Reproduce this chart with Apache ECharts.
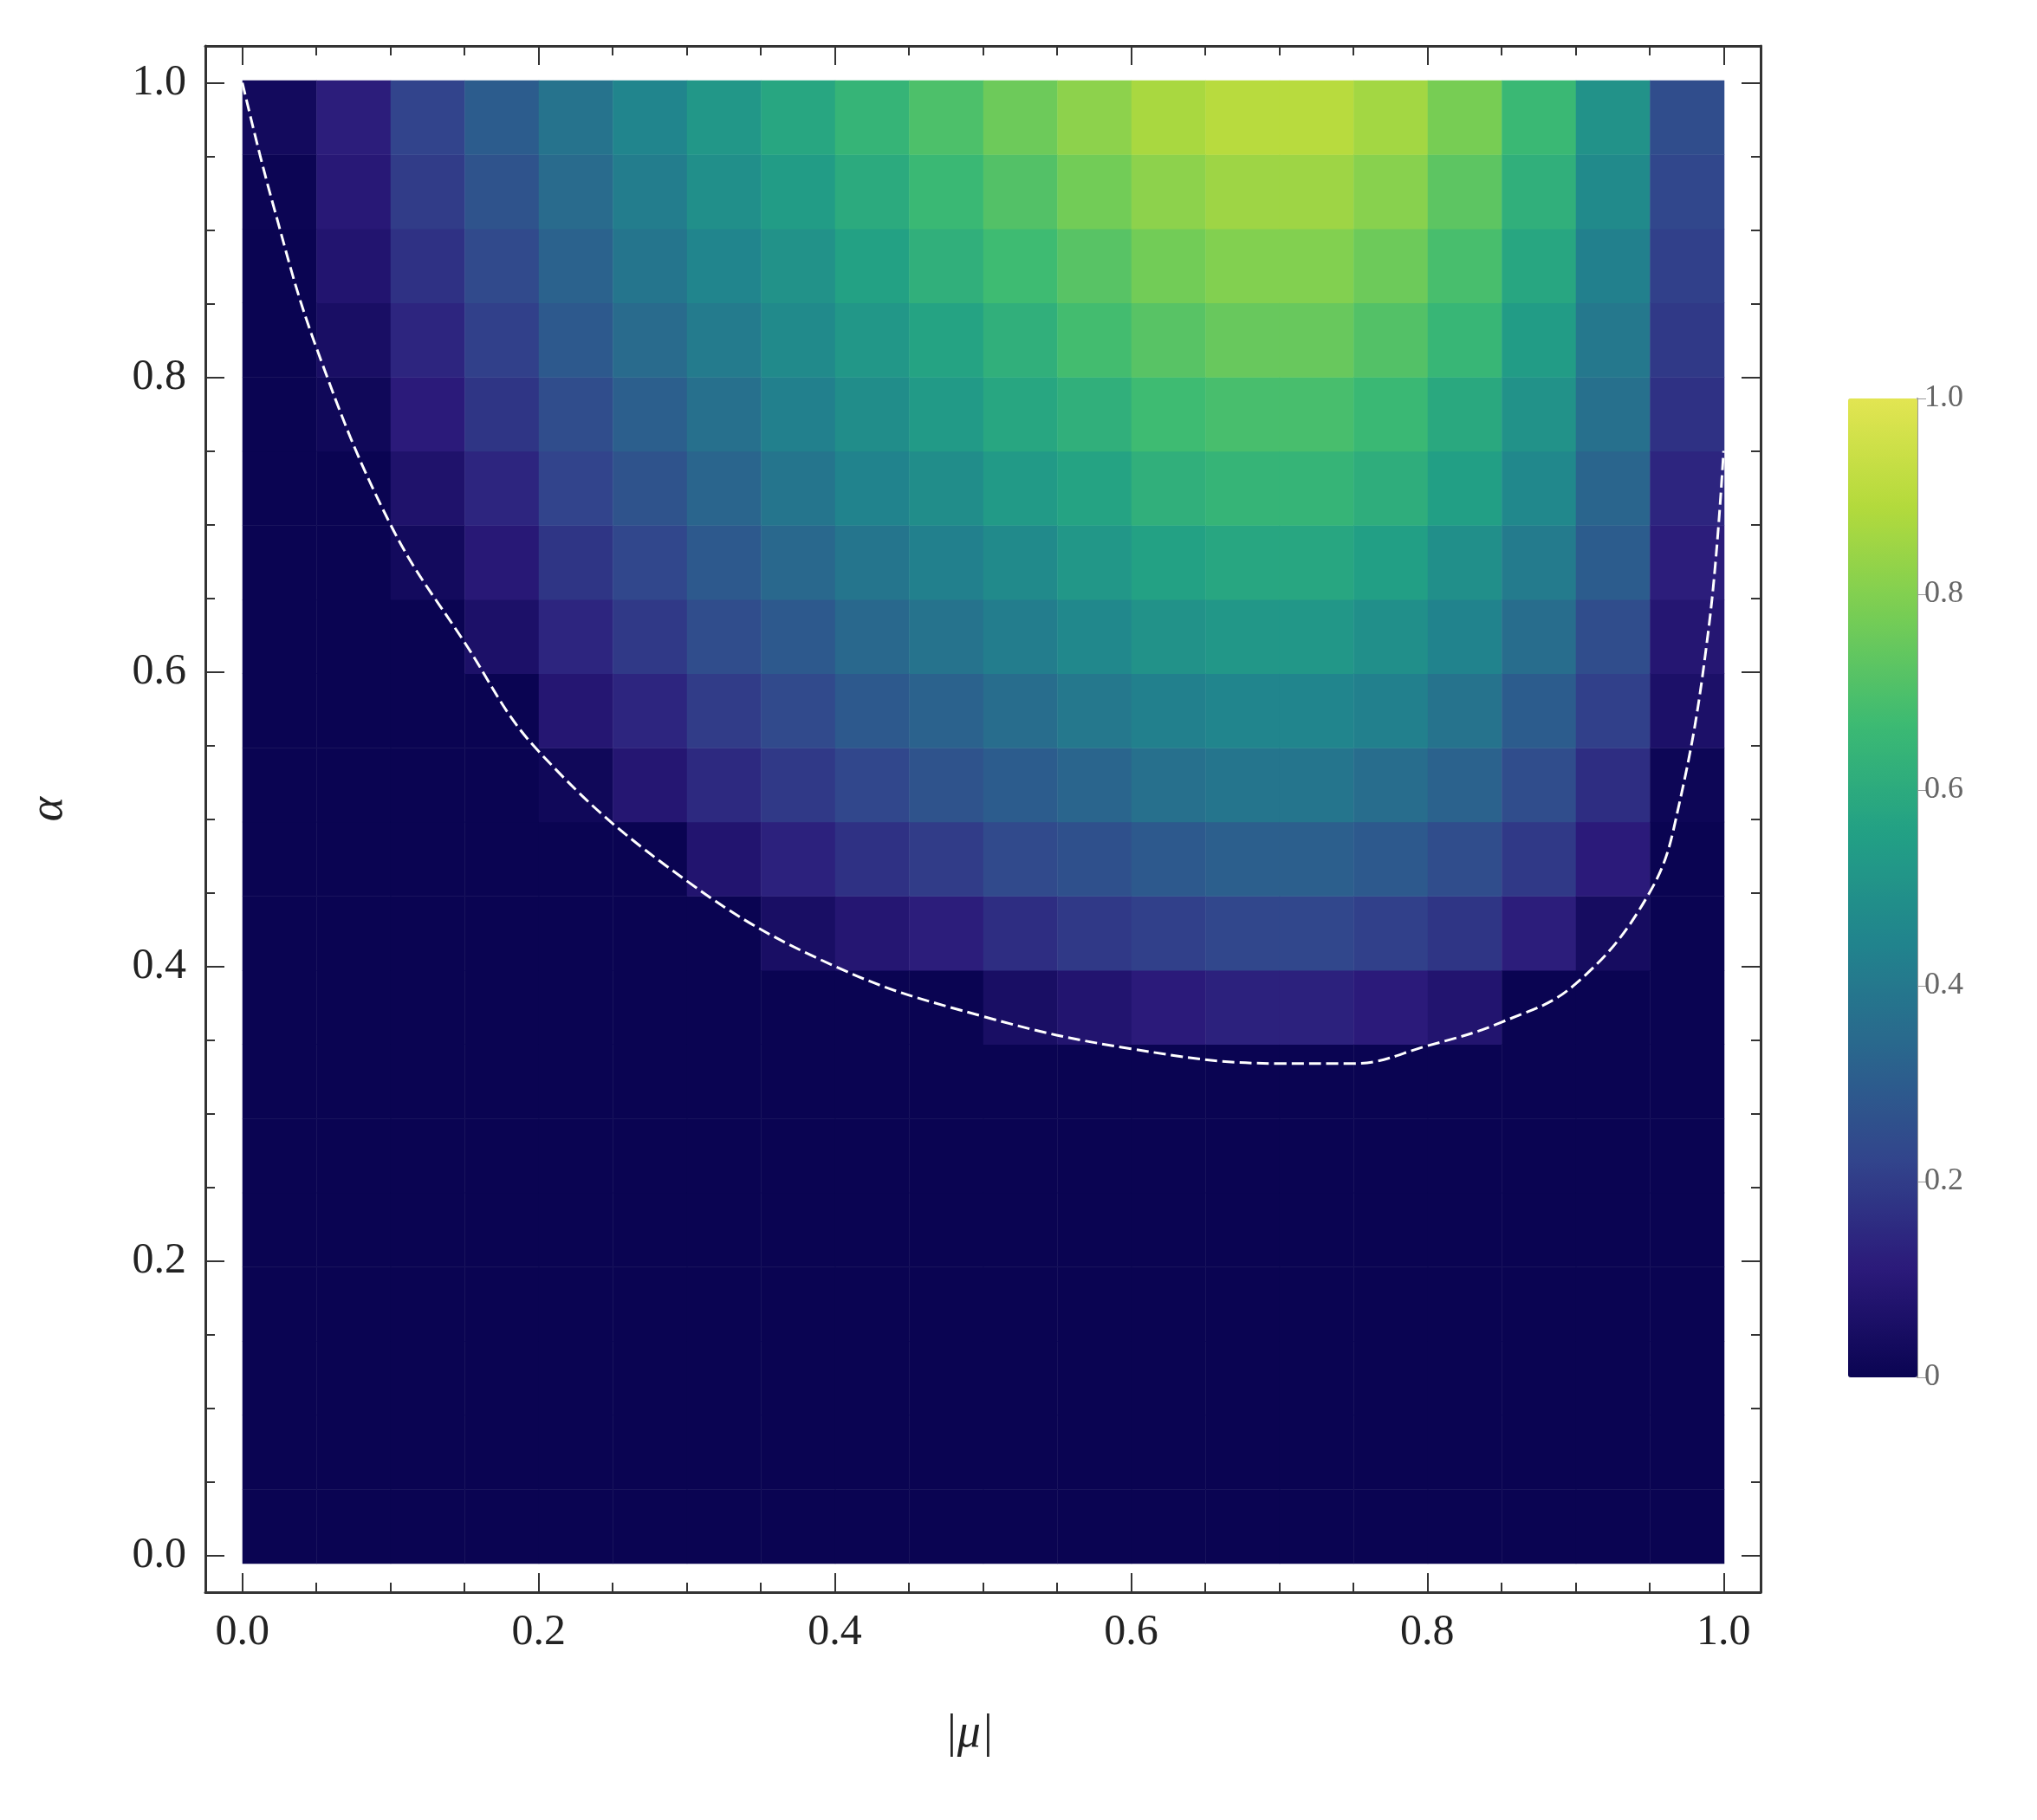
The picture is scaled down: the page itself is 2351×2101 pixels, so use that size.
<!DOCTYPE html>
<html><head><meta charset="utf-8">
<script src="https://cdn.jsdelivr.net/npm/echarts@6/dist/echarts.min.js"></script>
<style>html,body{margin:0;background:#fff}#c{width:2351px;height:2101px}</style>
</head><body><div id="c"></div>
<script>
// heatmap columns: muCols[i] center; each array gives values for alpha rows 0.025..0.975
const muCols = ['0.025','0.075','0.125','0.175','0.225','0.275','0.325','0.375','0.425','0.475','0.525','0.575','0.625','0.675','0.725','0.775','0.825','0.875','0.925','0.975'];
const alphaRows = ['0.025','0.075','0.125','0.175','0.225','0.275','0.325','0.375','0.425','0.475','0.525','0.575','0.625','0.675','0.725','0.775','0.825','0.875','0.925','0.975'];
const col0  = [0,0,0,0,0,0,0,0,0,0,0,0,0,0,0,0,0,0,0.006,0.03];
const col1  = [0,0,0,0,0,0,0,0,0,0,0,0,0,0,0,0.02,0.05,0.08,0.10,0.12];
const col2  = [0,0,0,0,0,0,0,0,0,0,0,0,0,0.03,0.07,0.11,0.14,0.17,0.20,0.22];
const col3  = [0,0,0,0,0,0,0,0,0,0,0,0,0.06,0.10,0.14,0.18,0.21,0.24,0.27,0.30];
const col4  = [0,0,0,0,0,0,0,0,0,0,0.02,0.09,0.14,0.18,0.22,0.25,0.29,0.32,0.35,0.38];
const col5  = [0,0,0,0,0,0,0,0,0,0,0.09,0.14,0.19,0.23,0.27,0.31,0.35,0.39,0.42,0.45];
const col6  = [0,0,0,0,0,0,0,0,0,0.08,0.15,0.20,0.25,0.29,0.33,0.37,0.41,0.45,0.49,0.52];
const col7  = [0,0,0,0,0,0,0,0,0.05,0.13,0.19,0.24,0.29,0.34,0.39,0.43,0.47,0.50,0.54,0.58];
const col8  = [0,0,0,0,0,0,0,0,0.09,0.17,0.23,0.29,0.34,0.39,0.44,0.48,0.52,0.56,0.60,0.64];
const col9  = [0,0,0,0,0,0,0,0,0.12,0.20,0.27,0.32,0.38,0.43,0.48,0.53,0.57,0.62,0.66,0.70];
const col10 = [0,0,0,0,0,0,0,0.05,0.16,0.24,0.30,0.36,0.42,0.47,0.53,0.58,0.62,0.67,0.71,0.76];
const col11 = [0,0,0,0,0,0,0,0.08,0.19,0.26,0.33,0.40,0.46,0.52,0.57,0.62,0.68,0.72,0.77,0.82];
const col12 = [0,0,0,0,0,0,0,0.11,0.21,0.29,0.37,0.43,0.50,0.56,0.62,0.67,0.72,0.77,0.82,0.87];
const col13 = [0,0,0,0,0,0,0,0.13,0.23,0.31,0.39,0.45,0.52,0.58,0.64,0.69,0.75,0.80,0.85,0.90];
const col14 = [0,0,0,0,0,0,0,0.13,0.23,0.31,0.39,0.45,0.52,0.58,0.64,0.69,0.75,0.80,0.85,0.90];
const col15 = [0,0,0,0,0,0,0,0.11,0.21,0.29,0.36,0.43,0.49,0.55,0.61,0.66,0.71,0.76,0.81,0.86];
const col16 = [0,0,0,0,0,0,0,0.08,0.18,0.25,0.32,0.38,0.44,0.49,0.55,0.59,0.65,0.69,0.73,0.78];
const col17 = [0,0,0,0,0,0,0,0,0.12,0.19,0.25,0.30,0.36,0.41,0.46,0.50,0.54,0.58,0.62,0.66];
const col18 = [0,0,0,0,0,0,0,0,0.04,0.11,0.16,0.21,0.25,0.30,0.33,0.37,0.40,0.43,0.47,0.50];
const col19 = [0,0,0,0,0,0,0,0,0,0,0.01,0.06,0.09,0.12,0.14,0.17,0.19,0.21,0.23,0.25];
const columns = [col0,col1,col2,col3,col4,col5,col6,col7,col8,col9,col10,col11,col12,col13,col14,col15,col16,col17,col18,col19];
// boundary curve
const boundaryMu    = [0.0,0.02,0.05,0.1,0.15,0.2,0.3,0.4,0.5,0.6,0.7,0.75,0.8,0.85,0.9,0.95,0.97,0.99,1.0];
const boundaryAlpha = [1.0,0.92,0.82,0.70,0.62,0.546,0.458,0.40,0.366,0.344,0.334,0.334,0.346,0.362,0.388,0.45,0.51,0.63,0.75];
const majorTicks = [0,0.2,0.4,0.6,0.8,1.0];
const minorTicks = [0,0.05,0.1,0.15,0.2,0.25,0.3,0.35,0.4,0.45,0.5,0.55,0.6,0.65,0.7,0.75,0.8,0.85,0.9,0.95,1.0];

const heat = [];
columns.forEach((c,i)=>c.forEach((v,j)=>heat.push([i,j,v])));
const line = boundaryMu.map((m,i)=>[m,boundaryAlpha[i]]);
const serif = 'Liberation Serif';
function frameAxis(pos, major, labels){
  return {type:'value',gridIndex:0,position:pos,min:-0.025,max:1.025,
    axisLine:{show:major,onZero:false,lineStyle:{color:'#333',width:3}},
    axisTick:{show:true,inside:true,length:major?22:11,customValues:major?majorTicks:minorTicks,lineStyle:{color:'#333',width:2}},
    splitLine:{show:false},
    axisLabel:labels?{show:true,customValues:majorTicks,margin:22,fontFamily:serif,fontSize:50,color:'#222',formatter:v=>v.toFixed(1)}:{show:false}};
}
const palette=['#0a0452','#2b1a7a','#32458c','#2a668d','#21848d','#22a085','#3cba73','#76cd55','#b3da3c','#e2e552'];
const chart = echarts.init(document.getElementById('c'));
chart.setOption({
  backgroundColor:'#fff',
  grid:[{left:237,top:53,width:1795,height:1785},
        {left:280,top:93,width:1710,height:1712},
        {left:2133,top:460,width:80,height:1130}],
  xAxis:[frameAxis('bottom',true,true),frameAxis('top',true,false),frameAxis('bottom',false,false),frameAxis('top',false,false),
    {type:'category',gridIndex:1,data:muCols,show:false},
    {type:'value',gridIndex:2,show:false,min:0,max:1}],
  yAxis:[frameAxis('left',true,true),frameAxis('right',true,false),frameAxis('left',false,false),frameAxis('right',false,false),
    {type:'category',gridIndex:1,data:alphaRows,show:false},
    {type:'value',gridIndex:2,position:'right',min:0,max:1,interval:0.2,
     axisLine:{show:true,onZero:false,lineStyle:{color:'#999',width:2}},axisTick:{show:true,inside:false,length:10,lineStyle:{color:'#999'}},
     splitLine:{show:false},axisLabel:{fontFamily:serif,fontSize:36,color:'#666',margin:8,formatter:v=>v===0?'0':v.toFixed(1)}}],
  visualMap:{type:'continuous',seriesIndex:0,min:0,max:1,show:true,calculable:false,left:2133,top:460,padding:0,
    itemWidth:80,itemHeight:1130,text:['',''],inRange:{color:palette}},
  graphic:[
    {type:'text',left:1090,top:1975,style:{text:'|μ|',font:'italic 54px "Liberation Serif"',fill:'#222'}},
    {type:'text',left:30,top:920,rotation:Math.PI/2,style:{text:'α',font:'italic 54px "Liberation Serif"',fill:'#222'}}
  ],
  series:[
    {type:'heatmap',xAxisIndex:4,yAxisIndex:4,data:heat,progressive:0},
    {type:'line',xAxisIndex:0,yAxisIndex:0,data:line,smooth:0.4,symbol:'none',
     lineStyle:{color:'#fff',width:3,type:[14,6]},z:5}
  ]
});
</script></body></html>
